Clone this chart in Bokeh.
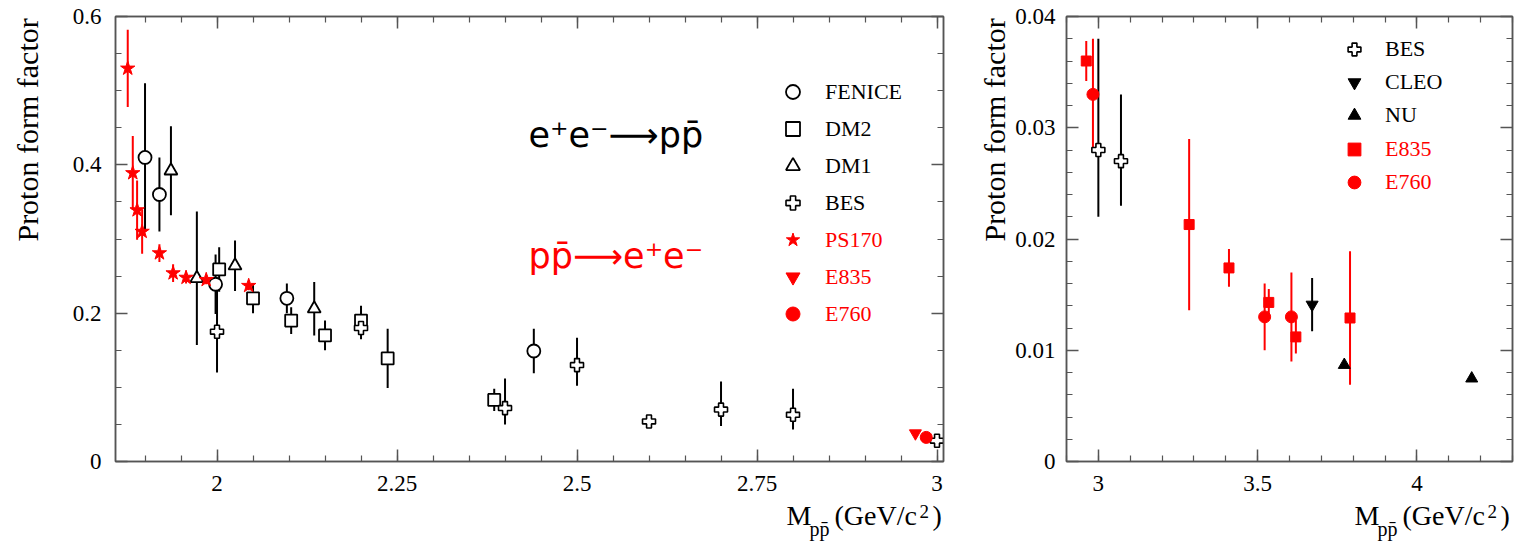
import numpy as np
from math import pi
from bokeh.plotting import figure
from bokeh.layouts import row, column
from bokeh.models import (Range1d, FixedTicker, LinearAxis, Label, Legend,
                          LegendItem, CustomJSTickFormatter)
from bokeh.embed import file_html
from bokeh.resources import INLINE

# ---------------- data : left panel (e+e- -> p pbar, p pbar -> e+e-) ----------------
fenice_x = [1.900, 1.920, 1.998, 2.097, 2.440]
fenice_y = [0.410, 0.360, 0.239, 0.220, 0.149]
fenice_e = [0.100, 0.050, 0.040, 0.020, 0.030]

dm2_x = [2.003, 2.050, 2.103, 2.150, 2.200, 2.237, 2.385]
dm2_y = [0.259, 0.220, 0.190, 0.170, 0.190, 0.139, 0.083]
dm2_e = [0.030, 0.020, 0.018, 0.020, 0.020, 0.040, 0.015]

dm1_x = [1.936, 1.972, 2.025, 2.135]
dm1_y = [0.392, 0.247, 0.264, 0.206]
dm1_e = [0.060, 0.090, 0.034, 0.036]

bes_l_x = [2.0, 2.2, 2.4, 2.5, 2.6, 2.7, 2.8, 3.0]
bes_l_y = [0.175, 0.180, 0.072, 0.130, 0.054, 0.070, 0.063, 0.028]
bes_l_lo = [0.055, 0.015, 0.022, 0.028, 0.005, 0.022, 0.020, 0.004]
bes_l_hi = [0.055, 0.015, 0.040, 0.037, 0.005, 0.038, 0.035, 0.004]

ps170_x = [1.876, 1.883, 1.889, 1.896, 1.920, 1.939, 1.957, 1.985, 2.044]
ps170_y = [0.530, 0.389, 0.339, 0.310, 0.281, 0.254, 0.248, 0.245, 0.237]
ps170_e = [0.052, 0.050, 0.040, 0.030, 0.012, 0.012, 0.008, 0.006, 0.006]

e835_l_x = [2.970]
e835_l_y = [0.038]
e760_l_x = [2.985]
e760_l_y = [0.0325]

left_xticks = [2.0, 2.25, 2.5, 2.75, 3.0]
left_xlabels = ["2", "2.25", "2.5", "2.75", "3"]
left_yticks = [0.0, 0.2, 0.4, 0.6]
left_ylabels = ["0", "0.2", "0.4", "0.6"]

# ---------------- data : right panel ----------------
bes_r_x = [3.000, 3.071]
bes_r_y = [0.0280, 0.0270]
bes_r_lo = [0.0060, 0.0040]
bes_r_hi = [0.0100, 0.0060]

cleo_x = [3.671]
cleo_y = [0.0141]
cleo_e = [0.0024]

nu_x = [3.772, 4.172]
nu_y = [0.00868, 0.00746]

e835_r_x = [2.962, 3.285, 3.410, 3.535, 3.620, 3.790]
e835_r_y = [0.0360, 0.0213, 0.0174, 0.0143, 0.0112, 0.0129]
e835_r_e = [0.0018, 0.0077, 0.0017, 0.0012, 0.0015, 0.0060]

e760_r_x = [2.983, 3.522, 3.606]
e760_r_y = [0.0330, 0.0130, 0.0130]
e760_r_e = [0.0050, 0.0030, 0.0040]

right_xticks = [3.0, 3.5, 4.0]
right_xlabels = ["3", "3.5", "4"]
right_yticks = [0.0, 0.01, 0.02, 0.03, 0.04]
right_ylabels = ["0", "0.01", "0.02", "0.03", "0.04"]

# ---------------- style ----------------
RED = "#ff0000"
BLK = "#000000"
AX = "#555555"
SERIF = "Liberation Serif"
SANS = "DejaVu Sans"


class Frame:
    def __init__(self, xr, yr, fw, fh):
        self.xr, self.yr, self.fw, self.fh = xr, yr, fw, fh

    def x(self, px):  # px measured from frame left
        return self.xr[0] + px * (self.xr[1] - self.xr[0]) / self.fw

    def y(self, px):  # px measured from frame bottom (up positive)
        return self.yr[0] + px * (self.yr[1] - self.yr[0]) / self.fh


def make_fig(xr, yr, width, height, mbl, mbr, mbt, mbb):
    p = figure(width=width, height=height, x_range=Range1d(*xr), y_range=Range1d(*yr),
               output_backend="svg", toolbar_location=None,
               min_border_left=mbl, min_border_right=mbr,
               min_border_top=mbt, min_border_bottom=mbb)
    p.xgrid.visible = False
    p.ygrid.visible = False
    p.outline_line_color = AX
    p.outline_line_width = 1.5
    p.background_fill_color = "white"
    p.border_fill_color = "white"
    return p


def style_axes(p, xt, xmin, xlab, yt, ymin, ylab, ystandoff):
    top = LinearAxis()
    right = LinearAxis()
    p.add_layout(top, "above")
    p.add_layout(right, "right")
    for ax in list(p.below) + [top]:
        ax.ticker = FixedTicker(ticks=xt, minor_ticks=xmin)
    for ax in list(p.left) + [right]:
        ax.ticker = FixedTicker(ticks=yt, minor_ticks=ymin)
    for ax in list(p.below) + list(p.left) + [top, right]:
        ax.axis_line_color = AX
        ax.axis_line_width = 1.5
        ax.major_tick_line_color = AX
        ax.minor_tick_line_color = AX
        ax.major_tick_line_width = 1.5
        ax.minor_tick_line_width = 1.2
        ax.major_tick_in = 12
        ax.major_tick_out = 0
        ax.minor_tick_in = 6
        ax.minor_tick_out = 0
        ax.major_label_text_font = SERIF
        ax.major_label_text_font_size = "23px"
        ax.major_label_text_color = BLK
    p.below[0].major_label_overrides = dict(zip(xt, xlab))
    p.below[0].major_label_standoff = 14
    p.left[0].major_label_overrides = dict(zip(yt, ylab))
    p.left[0].major_label_standoff = ystandoff
    for ax in (top, right):
        ax.formatter = CustomJSTickFormatter(code="return ''")
        ax.major_label_text_font_size = "1px"
        ax.major_label_standoff = 0


def errbars(p, x, y, lo, hi, color):
    p.segment(x0=x, y0=[a - b for a, b in zip(y, lo)], x1=x,
              y1=[a + b for a, b in zip(y, hi)], line_color=color, line_width=2)


def add_legend(p, items, color, loc, glyph, spacing, standoff):
    lg = Legend(items=[LegendItem(label=l, renderers=[r]) for l, r in items],
                location=loc, orientation="vertical",
                glyph_width=glyph, glyph_height=glyph, spacing=spacing,
                padding=0, margin=0, label_standoff=standoff,
                label_text_font=SERIF, label_text_font_size="22px",
                label_text_color=color, border_line_alpha=0,
                background_fill_alpha=0)
    p.add_layout(lg)


def text_fig(width, height):
    t = figure(width=width, height=height, x_range=Range1d(0, width),
               y_range=Range1d(0, height), x_axis_type=None, y_axis_type=None,
               output_backend="svg", toolbar_location=None, min_border=0)
    t.outline_line_color = None
    t.background_fill_color = "white"
    t.border_fill_color = "white"
    return t


def xtitle(t, right, base):
    # x title "M_{p pbar} (GeV/c^2)" built from pieces, right end at `right`
    pieces = [
        ("M", -159, 0, "28px"),
        ("pp\u0304", -136, -13, "20px"),
        ("(GeV/c", -111, 0, "28px"),
        ("2", -26, 4, "19px"),
        (")", -13, 0, "28px"),
    ]
    for txt, dx, dy, fs in pieces:
        t.add_layout(Label(x=right + dx, y=base + dy, text=txt,
                           text_font=SERIF, text_font_size=fs, text_color=BLK,
                           text_align="left", text_baseline="alphabetic"))


def ytitle(t, xbase, ytop):
    t.add_layout(Label(x=xbase, y=ytop, text="Proton form factor", angle=pi / 2,
                       text_align="right", text_baseline="alphabetic",
                       text_font=SERIF, text_font_size="30px", text_color=BLK))


H_MAIN, H_TITLE = 500, 41

# ================= left panel =================
LXR, LYR = (1.859, 3.009), (0.0, 0.6)
LFW, LFH = 828, 445
FL = Frame(LXR, LYR, LFW, LFH)
p1 = make_fig(LXR, LYR, 908, H_MAIN, 65, 15, 16, 39)
style_axes(p1, left_xticks, [round(v, 3) for v in np.arange(1.9, 3.01, 0.05)], left_xlabels,
           left_yticks, [round(v, 3) for v in np.arange(0.0, 0.61, 0.05)], left_ylabels, 14)

errbars(p1, ps170_x, ps170_y, ps170_e, ps170_e, RED)
errbars(p1, fenice_x, fenice_y, fenice_e, fenice_e, BLK)
errbars(p1, dm2_x, dm2_y, dm2_e, dm2_e, BLK)
errbars(p1, dm1_x, dm1_y, dm1_e, dm1_e, BLK)
errbars(p1, bes_l_x, bes_l_y, bes_l_lo, bes_l_hi, BLK)

r_fen = p1.scatter(fenice_x, fenice_y, marker="circle", size=13, fill_color="white",
                   line_color=BLK, line_width=1.8)
r_dm2 = p1.scatter(dm2_x, dm2_y, marker="square", size=12, fill_color="white",
                   line_color=BLK, line_width=1.8)
r_dm1 = p1.scatter(dm1_x, dm1_y, marker="triangle", size=13, fill_color="white",
                   line_color=BLK, line_width=1.8)
r_besl = p1.scatter(bes_l_x, bes_l_y, marker="plus", size=13, fill_color="white",
                    line_color=BLK, line_width=1.6)
r_ps = p1.scatter(ps170_x, ps170_y, marker="star", size=15, fill_color=RED,
                  line_color=RED, line_width=1)
r_e835l = p1.scatter(e835_l_x, e835_l_y, marker="inverted_triangle", size=12,
                     fill_color=RED, line_color=RED)
r_e760l = p1.scatter(e760_l_x, e760_l_y, marker="circle", size=12,
                     fill_color=RED, line_color=RED)

add_legend(p1, [("FENICE", r_fen), ("DM2", r_dm2), ("DM1", r_dm1), ("BES", r_besl)],
           BLK, (660, 241), 35, 2, 15)
add_legend(p1, [("PS170", r_ps), ("E835", r_e835l), ("E760", r_e760l)],
           RED, (660, 130), 35, 2, 15)

p1.add_layout(Label(x=FL.x(413), y=FL.y(327), text="e\u207ae\u207b\u27f6pp\u0304",
                    text_font=SANS, text_font_size="35px", text_color=BLK,
                    text_align="left", text_baseline="alphabetic"))
p1.add_layout(Label(x=FL.x(413), y=FL.y(206), text="pp\u0304\u27f6e\u207ae\u207b",
                    text_font=SANS, text_font_size="35px", text_color=RED,
                    text_align="left", text_baseline="alphabetic"))

# ================= right panel =================
RXR, RYR = (2.9, 4.3), (0.0, 0.04)
RFW, RFH = 447, 447
FR = Frame(RXR, RYR, RFW, RFH)
p2 = make_fig(RXR, RYR, 503, H_MAIN, 53, 3, 15, 38)
style_axes(p2, right_xticks, [round(v, 3) for v in np.arange(2.9, 4.31, 0.1)], right_xlabels,
           right_yticks, [round(v, 4) for v in np.arange(0.0, 0.0401, 0.002)], right_ylabels, 11)

errbars(p2, e835_r_x, e835_r_y, e835_r_e, e835_r_e, RED)
errbars(p2, e760_r_x, e760_r_y, e760_r_e, e760_r_e, RED)
errbars(p2, bes_r_x, bes_r_y, bes_r_lo, bes_r_hi, BLK)
errbars(p2, cleo_x, cleo_y, cleo_e, cleo_e, BLK)

r_besr = p2.scatter(bes_r_x, bes_r_y, marker="plus", size=13, fill_color="white",
                    line_color=BLK, line_width=1.6)
r_cleo = p2.scatter(cleo_x, cleo_y, marker="inverted_triangle", size=12,
                    fill_color=BLK, line_color=BLK)
r_nu = p2.scatter(nu_x, nu_y, marker="triangle", size=12, fill_color=BLK, line_color=BLK)
r_e835r = p2.scatter(e835_r_x, e835_r_y, marker="square", size=10,
                     fill_color=RED, line_color=RED)
r_e760r = p2.scatter(e760_r_x, e760_r_y, marker="circle", size=12,
                     fill_color=RED, line_color=RED)

add_legend(p2, [("BES", r_besr), ("CLEO", r_cleo), ("NU", r_nu)],
           BLK, (272, 330), 32, 1, 15)
add_legend(p2, [("E835", r_e835r), ("E760", r_e760r)],
           RED, (272, 263), 32, 1, 15)

# ================= axis titles =================
yt1 = text_fig(50, H_MAIN)
ytitle(yt1, 27, H_MAIN - 2)
yt2 = text_fig(54, H_MAIN)
ytitle(yt2, 36, H_MAIN - 2)

t1 = text_fig(958, H_TITLE)
t2 = text_fig(557, H_TITLE)
xtitle(t1, 945, 26)
xtitle(t2, 555, 26)

layout = column(row(yt1, p1, yt2, p2, spacing=0),
                row(t1, t2, spacing=0), spacing=0)
open("out.html", "w").write(file_html(layout, INLINE))
